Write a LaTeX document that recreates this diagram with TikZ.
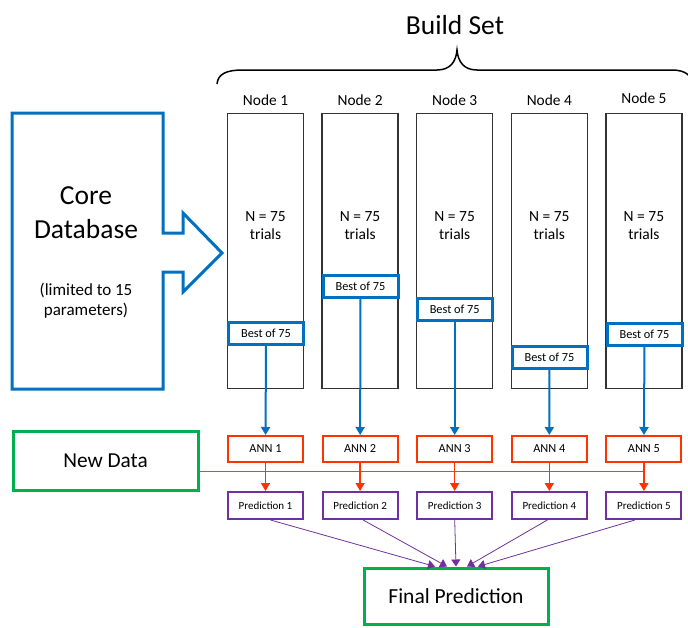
\documentclass[tikz,border=0pt]{standalone}
\usepackage{fontspec}
\setmainfont{Carlito}
\usepackage{tikz}
\usetikzlibrary{arrows.meta}

\definecolor{coreblue}{HTML}{0070C0}
\definecolor{annred}{HTML}{FF3300}
\definecolor{predpurple}{HTML}{7030A0}
\definecolor{resgreen}{HTML}{00B050}
\definecolor{datared}{HTML}{C0504D}

\tikzset{
	column/.style={draw=black!80, line width=1.5pt, minimum width=76pt, minimum height=275pt, inner sep=0pt},
	best/.style={draw=coreblue, line width=3pt, fill=white, minimum width=75pt, minimum height=22pt, inner sep=0pt, font=\fontsize{12.3}{14}\selectfont},
	ann/.style={draw=annred, line width=2pt, minimum width=75pt, minimum height=26pt, inner sep=0pt, font=\fontsize{12.3}{14}\selectfont},
	pred/.style={draw=predpurple, line width=2pt, minimum width=75pt, minimum height=27pt, inner sep=0pt, font=\fontsize{11}{13}\selectfont},
	result/.style={draw=resgreen, line width=3pt, inner sep=0pt, font=\fontsize{21.5}{26}\selectfont},
	nodelabel/.style={font=\fontsize{15.4}{18}\selectfont},
	trials/.style={align=center, font=\fontsize{15.5}{18}\selectfont},
	pick/.style={draw=coreblue, line width=2pt, -{Triangle[width=9pt,length=8pt]}},
	feed/.style={draw=annred, line width=1.5pt, -{Triangle[width=9pt,length=8pt]}},
	vote/.style={draw=predpurple, line width=0.8pt, -{Triangle[width=9pt,length=7pt]}}
}

\begin{document}
\begin{tikzpicture}[x=1pt, y=-1pt]
	\useasboundingbox (0,0) rectangle (688,627);
	\clip (0,0) rectangle (688,627);

	% core database arrow
	\draw[coreblue, line width=3pt, line join=miter]
		(12,113) -- (163,113) -- (163,233) -- (183,233) -- (183,213) -- (222,253)
		-- (183,292) -- (183,272) -- (163,272) -- (163,389) -- (12,389) -- cycle;
	\node[align=center, font=\fontsize{27.5}{34}\selectfont] (core) at (86,213) {Core\\Database};
	\node[align=center, font=\fontsize{17}{20}\selectfont] (limit) at (86,301) {(limited to 15\\parameters)};

	% build set brace
	\node[font=\fontsize{27.5}{33}\selectfont] (build) at (455,25) {Build Set};
	\draw[line width=1.5pt] (217,84) .. controls (218,74) and (226,70) .. (243,70) -- (437,70)
		.. controls (450,70) and (456,62) .. (457,50) .. controls (458,62) and (464,70) .. (477,70)
		-- (672,70) .. controls (686,70) and (692,76) .. (694,86);

	% nodes of the build set
	\node[nodelabel] (lab1) at (265.5,100) {Node 1};
	\node[nodelabel] (lab2) at (360.1,100) {Node 2};
	\node[nodelabel] (lab3) at (454.7,100) {Node 3};
	\node[nodelabel] (lab4) at (549.3,100) {Node 4};
	\node[nodelabel] (lab5) at (643.9,98)  {Node 5};

	\node[column] (n1) at (265.5,251) {};
	\node[column] (n2) at (360.1,251) {};
	\node[column] (n3) at (454.7,251) {};
	\node[column] (n4) at (549.3,251) {};
	\node[column] (n5) at (643.9,251) {};

	\node[trials] (t1) at (265.5,226) {N = 75\\trials};
	\node[trials] (t2) at (360.1,226) {N = 75\\trials};
	\node[trials] (t3) at (454.7,226) {N = 75\\trials};
	\node[trials] (t4) at (549.3,226) {N = 75\\trials};
	\node[trials] (t5) at (643.9,226) {N = 75\\trials};

	\node[best] (b1) at (266,333.5) {Best of 75};
	\node[best] (b2) at (360.5,286)  {Best of 75};
	\node[best] (b3) at (454.7,309)  {Best of 75};
	\node[best] (b4) at (549.5,357.5) {Best of 75};
	\node[best] (b5) at (644.5,334.5) {Best of 75};

	% networks and predictions
	\node[ann] (a1) at (265.5,449) {ANN 1};
	\node[ann] (a2) at (360.1,449) {ANN 2};
	\node[ann] (a3) at (454.7,449) {ANN 3};
	\node[ann] (a4) at (549.3,449) {ANN 4};
	\node[ann] (a5) at (643.9,449) {ANN 5};

	\node[pred] (p1) at (265.5,505.5) {Prediction 1};
	\node[pred] (p2) at (360.1,505.5) {Prediction 2};
	\node[pred] (p3) at (454.7,505.5) {Prediction 3};
	\node[pred] (p4) at (549.3,505.5) {Prediction 4};
	\node[pred] (p5) at (643.9,505.5) {Prediction 5};

	\node[result, minimum width=185pt, minimum height=59pt, font=\fontsize{21.3}{26}\selectfont] (newdata) at (105.5,460.5) {New Data};
	\node[result, minimum width=184pt, minimum height=56pt] (final) at (456,596) {Final Prediction};

	\draw[pick] (b1) -- (a1);
	\draw[pick] (b2) -- (a2);
	\draw[pick] (b3) -- (a3);
	\draw[pick] (b4) -- (a4);
	\draw[pick] (b5) -- (a5);

	\coordinate (tap) at (643.9,471);
	\draw[datared, line width=1pt] (newdata.east |- tap) -- (tap);

	\draw[feed] (a1) -- (p1);
	\draw[feed] (a2) -- (p2);
	\draw[feed] (a3) -- (p3);
	\draw[feed] (a4) -- (p4);
	\draw[feed] (a5) -- (p5);

	\draw[vote] ([xshift=5pt]p1.south)  -- ([xshift=-21pt]final.north);
	\draw[vote] ([xshift=3pt]p2.south)  -- ([xshift=-9pt]final.north);
	\draw[vote] (p3.south)              -- (final.north);
	\draw[vote] ([xshift=-2pt]p4.south) -- ([xshift=11pt]final.north);
	\draw[vote] ([xshift=-9pt]p5.south) -- ([xshift=22pt]final.north);
\end{tikzpicture}
\end{document}
